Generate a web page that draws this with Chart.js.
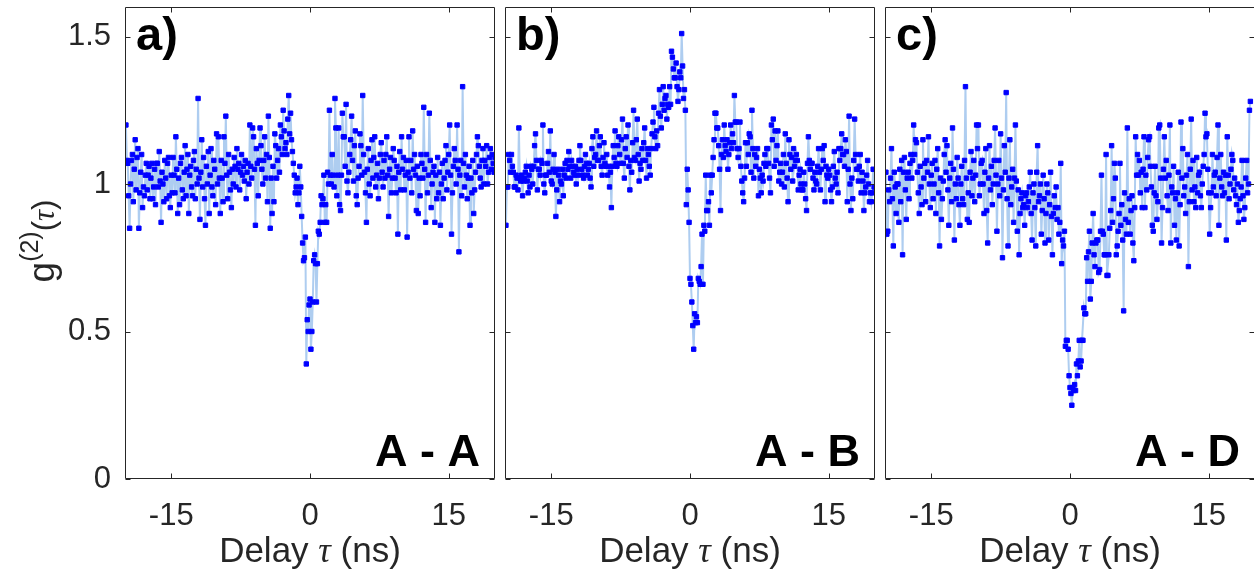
<!DOCTYPE html>
<html><head><meta charset="utf-8">
<script src="https://cdn.jsdelivr.net/npm/chart.js@4.4.1/dist/chart.umd.min.js"></script>
<style>
html,body{margin:0;padding:0;background:#fff;}
body{width:1254px;height:571px;overflow:hidden;position:relative;}
.pane{position:absolute;top:0;}
</style></head>
<body>
<div class="pane" style="left:0px"><canvas id="ca" width="500" height="571"></canvas></div>
<div class="pane" style="left:500px"><canvas id="cb" width="380" height="571"></canvas></div>
<div class="pane" style="left:880px"><canvas id="cc" width="380" height="571"></canvas></div>
<script>
// ---- data ----
const binStart = -19.9, binStep = 0.1, binCount = 400;   // delay bins in ns
const delayNs = Array.from({length: binCount}, (_, i) => +(binStart + binStep * i).toFixed(2));

const g2AA = [
 1.20,1.08,1.07,0.96,0.85,1.00,1.08,1.10,0.94,1.05,1.15,0.98,1.09,1.12,0.85,0.97,1.04,1.10,0.92,0.99,
 0.96,1.03,1.07,0.98,1.03,1.06,0.95,1.02,1.07,0.95,0.99,1.05,0.93,1.07,1.07,0.99,1.11,1.01,0.87,1.04,
 1.00,0.94,1.08,1.02,0.95,1.07,1.09,0.96,0.92,1.03,0.97,1.09,1.03,0.97,1.16,1.05,0.90,1.02,0.93,1.07,
 1.09,0.98,0.95,1.04,1.13,0.96,1.05,1.10,0.90,1.03,1.06,0.99,0.96,1.08,1.11,0.95,1.05,1.00,1.29,1.02,
 0.88,1.04,1.15,0.99,1.09,0.95,0.86,1.06,1.00,1.11,0.90,1.03,1.12,0.99,0.96,1.08,1.05,0.93,1.17,1.00,
 1.16,1.02,0.90,1.08,1.02,0.94,1.16,1.07,1.23,1.03,0.95,1.10,1.04,0.98,0.92,1.05,1.00,1.09,1.06,0.99,
 1.12,1.05,1.07,0.98,1.04,1.10,1.03,1.06,1.01,1.08,0.95,1.04,1.07,1.00,1.20,1.06,1.02,1.19,1.16,1.05,
 0.86,1.12,1.07,0.96,1.08,1.19,1.13,1.05,1.00,1.08,1.16,1.02,1.10,0.94,1.23,1.09,0.85,1.02,0.90,1.06,
 0.94,1.17,1.13,1.02,1.08,1.12,1.04,1.20,1.16,1.10,1.25,1.18,1.12,1.14,1.10,1.22,1.30,1.17,1.24,1.15,
 1.11,1.07,1.03,0.97,0.99,1.02,0.93,0.97,1.06,0.99,0.89,0.80,0.74,0.75,0.82,0.39,0.54,0.50,0.59,0.61,
 0.44,0.50,0.60,0.74,0.76,0.73,0.60,0.73,0.84,0.83,0.87,0.96,0.93,0.95,1.03,0.87,0.93,0.87,1.04,1.00,
 1.25,1.03,1.00,1.10,1.03,0.99,1.29,1.19,0.96,1.03,1.19,0.93,0.91,1.03,1.24,1.16,1.16,1.06,1.27,1.01,
 0.97,1.04,1.10,1.15,1.23,1.08,1.01,1.13,1.18,0.96,0.93,1.02,1.06,1.17,1.13,1.03,1.30,1.10,1.04,0.97,
 0.87,1.05,1.12,1.00,0.96,1.08,1.15,1.02,1.09,1.16,0.99,1.03,1.07,0.95,1.02,1.10,1.14,1.04,0.99,1.08,
 1.02,1.10,1.16,1.03,0.89,1.05,1.09,0.97,1.02,1.12,1.08,1.02,0.97,1.06,0.83,1.04,1.11,0.98,1.16,1.05,
 1.09,0.98,1.03,1.08,0.82,1.04,1.16,1.02,1.08,0.97,1.18,1.05,1.10,1.03,0.91,1.06,0.90,1.02,0.96,1.10,
 1.07,1.02,1.26,1.05,0.87,1.10,0.97,1.03,1.24,1.08,0.92,1.00,1.04,1.06,0.87,1.03,0.95,1.09,0.97,1.04,
 0.86,1.00,1.07,0.95,1.02,1.08,1.13,0.98,1.04,1.10,1.20,1.03,0.83,0.97,1.06,1.12,1.08,1.00,1.20,1.05,
 0.77,1.03,1.08,0.96,1.33,1.07,0.99,1.10,1.03,0.95,1.02,1.06,0.86,1.02,0.97,1.08,0.90,0.98,1.04,1.10,
 1.16,1.13,1.06,1.02,0.99,1.08,1.12,1.00,1.08,1.06,1.13,1.00,1.04,1.09,1.12,1.05,1.10,1.07,1.04,1.09
];
const g2AB = [
 0.86,0.99,0.99,1.10,1.08,1.04,1.10,1.06,1.04,0.99,0.99,1.03,1.02,0.98,1.19,1.02,1.01,1.03,0.96,1.01,
 1.02,1.04,1.06,1.01,0.97,1.03,0.99,1.06,1.05,1.00,1.06,1.13,1.17,1.08,0.98,1.05,1.05,1.03,1.08,1.07,
 1.20,1.00,0.97,1.03,1.03,1.07,1.11,1.04,1.18,1.01,1.00,1.05,1.10,1.04,0.89,0.98,1.05,1.03,0.94,1.01,
 1.00,1.05,0.96,1.03,1.07,1.02,1.08,1.05,1.11,1.06,1.02,1.08,1.06,1.04,1.03,1.06,1.00,1.05,1.03,1.08,
 1.13,1.08,1.05,1.03,1.02,1.06,1.10,1.07,1.03,1.05,1.07,1.02,0.99,1.12,1.16,1.06,1.09,1.10,1.18,1.08,
 1.08,1.13,1.16,1.06,1.03,1.09,1.14,1.07,1.06,1.10,1.03,1.06,0.99,1.04,0.92,1.06,1.13,1.09,1.18,1.07,
 1.06,1.13,1.16,1.10,1.07,1.15,1.22,1.07,1.02,1.12,1.16,1.09,1.20,1.06,0.98,1.08,1.04,1.14,1.25,1.09,
 1.08,1.15,1.22,1.10,1.01,1.07,1.05,1.12,1.08,1.14,1.19,1.08,1.02,1.12,1.10,1.06,1.03,1.12,1.17,1.21,
 1.26,1.16,1.12,1.18,1.13,1.24,1.32,1.23,1.19,1.27,1.33,1.25,1.29,1.30,1.22,1.27,1.26,1.33,1.27,1.45,
 1.43,1.39,1.36,1.36,1.41,1.33,1.28,1.32,1.38,1.36,1.51,1.40,1.29,1.32,1.25,0.93,1.05,0.98,0.87,0.68,
 0.66,0.60,0.52,0.44,0.56,0.53,0.55,0.53,0.68,0.67,0.66,0.72,0.83,0.66,0.86,0.84,1.03,0.91,0.91,0.94,
 0.86,1.03,0.97,1.03,1.09,1.15,1.24,1.24,1.19,1.19,1.13,1.05,0.91,1.10,1.15,1.09,1.20,1.13,1.11,1.15,
 1.05,1.10,1.14,1.20,1.12,1.17,1.14,1.30,1.21,1.21,1.12,1.09,1.12,1.21,1.06,1.01,0.97,0.94,1.02,1.14,
 1.06,1.14,1.10,1.17,1.16,1.04,1.25,1.12,1.02,1.10,1.06,1.09,1.12,0.96,1.05,1.02,0.97,1.03,1.01,1.07,
 1.10,1.06,1.12,1.12,1.07,1.02,0.97,1.20,1.15,1.22,1.06,1.18,1.08,1.13,1.18,1.01,1.04,1.07,1.00,1.04,
 1.10,0.99,1.17,1.07,1.02,0.94,1.15,1.10,1.05,1.09,1.01,1.12,1.06,1.08,1.10,1.08,0.98,1.03,1.05,1.00,
 0.98,0.98,1.04,1.00,0.95,0.91,1.07,1.16,1.08,1.05,1.07,1.07,1.02,0.98,1.04,1.01,1.00,1.06,1.12,1.04,
 0.98,1.05,1.12,1.08,1.13,0.94,1.06,1.03,1.02,1.05,1.03,0.98,0.94,0.99,1.06,1.11,1.02,1.00,1.04,0.97,
 1.12,1.08,1.12,1.17,1.10,1.10,1.06,1.15,1.11,0.94,1.05,1.23,1.00,0.91,1.02,0.95,1.08,1.22,1.10,1.05,
 1.05,1.01,1.06,1.10,0.97,1.04,1.01,0.91,0.97,0.99,1.03,1.08,1.00,0.94,0.97,0.94,0.97,1.05,0.99,0.99
];
const g2AD = [
 1.04,0.83,0.84,0.98,0.94,1.02,1.12,0.95,0.79,1.04,0.99,0.90,1.00,1.00,0.87,1.05,0.94,1.08,0.76,1.04,
 1.09,0.98,0.88,1.02,1.04,0.95,1.07,1.10,1.02,1.08,1.20,1.10,1.15,1.14,1.04,0.97,0.90,1.06,0.99,0.93,
 1.15,1.02,1.07,0.94,1.08,1.04,1.16,1.00,0.92,1.03,1.07,0.95,1.00,1.08,0.90,1.05,1.12,0.97,0.79,1.02,
 0.88,0.95,1.01,1.10,1.15,1.04,1.13,0.98,0.86,1.02,1.07,0.94,1.19,1.05,0.81,1.00,0.95,1.09,1.02,0.93,
 0.86,1.00,1.06,0.95,0.93,1.08,1.33,1.02,0.88,0.97,0.87,1.04,1.11,0.96,1.02,1.08,0.94,1.03,1.20,1.12,
 1.20,0.96,1.00,1.07,1.08,1.00,0.90,1.04,1.12,0.91,0.80,1.02,1.13,0.98,1.06,0.93,1.00,1.08,1.19,1.03,
 0.84,1.00,1.08,0.96,1.17,1.02,0.75,0.98,1.13,1.04,1.31,0.95,0.79,1.02,1.15,0.93,0.99,1.05,0.87,1.02,
 1.20,1.01,0.84,0.98,0.76,0.90,0.95,0.97,0.92,0.93,0.86,0.96,0.97,0.92,0.94,0.99,1.04,0.90,0.81,0.97,
 1.00,0.92,0.79,1.04,1.13,0.94,0.96,1.00,0.83,0.91,1.03,0.95,0.80,0.90,1.00,0.97,0.81,0.93,1.04,0.89,
 0.76,0.90,0.96,0.92,0.99,0.88,0.92,0.83,0.87,1.07,0.73,0.81,0.79,0.84,0.45,0.47,0.47,0.44,0.35,0.31,
 0.29,0.25,0.31,0.30,0.32,0.30,0.39,0.35,0.40,0.47,0.38,0.40,0.47,0.47,0.58,0.56,0.56,0.75,0.67,0.77,
 0.84,0.61,0.67,0.80,0.90,0.76,0.72,0.80,0.81,0.81,0.70,0.71,0.84,1.03,0.84,0.83,0.76,0.76,1.10,0.69,
 0.69,0.76,0.85,0.91,1.13,0.87,0.95,1.07,1.02,0.76,0.79,0.84,0.90,1.07,0.86,0.93,0.81,0.57,0.97,0.88,
 0.83,1.19,0.87,0.95,0.83,0.91,0.96,0.80,0.74,0.92,1.16,1.03,1.10,1.03,1.08,0.97,1.04,0.92,1.05,1.16,
 0.92,1.03,0.98,1.09,1.15,1.16,1.06,0.99,0.86,0.84,0.97,1.06,0.96,0.88,0.94,1.19,1.20,1.02,0.80,0.92,
 1.05,1.16,1.02,1.08,0.96,0.91,1.03,1.20,0.80,0.99,0.97,1.06,0.86,0.95,0.81,0.97,1.04,0.79,0.93,1.21,
 1.02,1.12,0.96,0.99,0.90,1.03,1.10,0.72,0.94,1.05,1.22,0.98,1.08,0.94,0.99,0.92,1.09,0.97,1.03,1.04,
 0.96,0.92,1.00,1.06,1.10,1.24,1.16,1.17,1.05,0.97,0.83,0.92,0.97,1.10,0.99,1.03,1.04,0.96,1.09,1.20,
 0.86,1.02,1.10,0.99,0.96,1.04,0.97,1.03,0.81,1.16,1.03,0.95,1.00,1.05,1.10,1.08,0.98,1.02,0.96,0.93,
 1.00,0.87,0.91,0.95,0.99,1.08,0.96,0.88,0.92,1.02,1.08,0.97,1.00,1.25,1.28
];
const xTickValues = [-15, 0, 15];
const yTickValues = [0, 0.5, 1, 1.5];
const panelTags = ['a)', 'b)', 'c)'];
const panelPairs = ['A - A', 'A - B', 'A - D'];

// ---- drawing ----
const FONT = '"Liberation Sans", Arial, Helvetica, sans-serif';
const SERIF_IT = 'italic {s}px "Liberation Serif", "DejaVu Serif", serif';
const INK = '#262626';

const framePlugin = {
  id: 'frame',
  afterDatasetsDraw(chart, args, o) {
    const {ctx, chartArea: a, scales: {x, y}} = chart;
    ctx.save();
    ctx.strokeStyle = INK; ctx.lineWidth = 1;
    const l = Math.round(a.left) + 0.5, t = Math.round(a.top) + 0.5;
    const r = Math.round(a.right) - 0.5, b = Math.round(a.bottom) - 0.5;
    ctx.beginPath();
    ctx.moveTo(l, t); ctx.lineTo(r, t); ctx.lineTo(r, b); ctx.lineTo(l, b); ctx.closePath();
    const L = 5;
    xTickValues.forEach(v => {
      const px = Math.round(x.getPixelForValue(v)) + 0.5;
      ctx.moveTo(px, b); ctx.lineTo(px, b - L);
      ctx.moveTo(px, t); ctx.lineTo(px, t + L);
    });
    yTickValues.forEach(v => {
      const py = Math.round(y.getPixelForValue(v)) + 0.5;
      ctx.moveTo(l, py); ctx.lineTo(l + L, py);
      ctx.moveTo(r, py); ctx.lineTo(r - L, py);
    });
    ctx.stroke();
    // panel tag and pair label
    ctx.fillStyle = '#000';
    ctx.textBaseline = 'alphabetic';
    ctx.font = 'bold 47px ' + FONT;
    ctx.textAlign = 'left';
    ctx.fillText(o.tag, a.left + 11, a.top + 43);
    ctx.font = 'bold 45px ' + FONT;
    ctx.textAlign = 'right';
    ctx.fillText(o.pair, a.right - 15, a.bottom - 13);
    // x-axis title: Delay τ (ns)
    ctx.fillStyle = INK;
    const p1 = 'Delay ', p2 = 'τ', p3 = ' (ns)';
    const f1 = '35px ' + FONT, f2 = SERIF_IT.replace('{s}', 35);
    ctx.font = f1; const w1 = ctx.measureText(p1).width, w3 = ctx.measureText(p3).width;
    ctx.font = f2; const w2 = ctx.measureText(p2).width;
    const cx = (a.left + a.right) / 2; let sx = cx - (w1 + w2 + w3) / 2;
    const base = 562;
    ctx.textAlign = 'left';
    ctx.font = f1; ctx.fillText(p1, sx, base); sx += w1;
    ctx.font = f2; ctx.fillText(p2, sx, base); sx += w2;
    ctx.font = f1; ctx.fillText(p3, sx, base);
    // y-axis title on first panel: g^(2)(τ)
    if (o.yTitle) {
      ctx.translate(54, (a.top + a.bottom) / 2 - 2);
      ctx.rotate(-Math.PI / 2);
      const parts = [
        {s: 'g', f: '37px ' + FONT, dy: 0},
        {s: '(2)', f: '25px ' + FONT, dy: -16},
        {s: '(', f: '31px ' + FONT, dy: 0},
        {s: 'τ', f: SERIF_IT.replace('{s}', 31), dy: 0},
        {s: ')', f: '31px ' + FONT, dy: 0}
      ];
      let tw = 0;
      parts.forEach(p => { ctx.font = p.f; p.w = ctx.measureText(p.s).width; tw += p.w; });
      let px = -tw / 2;
      parts.forEach(p => { ctx.font = p.f; ctx.fillText(p.s, px, p.dy); px += p.w; });
    }
    ctx.restore();
  }
};

function makePanel(id, values, idx, yAxisWidth, padRight, showYLabels) {
  const pts = delayNs.map((d, i) => ({x: d, y: values[i]})).filter(p => p.y !== undefined);
  return new Chart(document.getElementById(id), {
    type: 'line',
    data: { datasets: [{
      data: pts,
      borderColor: '#aecdf0',
      borderWidth: 2,
      tension: 0,
      pointStyle: 'rect',
      pointRadius: 3.1,
      pointBorderWidth: 1,
      pointBackgroundColor: '#0000ff',
      pointBorderColor: '#0000ff'
    }]},
    options: {
      responsive: false,
      animation: false,
      events: [],
      layout: { padding: {top: 7, right: padRight, left: 0, bottom: 0} },
      plugins: {
        legend: {display: false}, tooltip: {enabled: false},
        frame: { tag: panelTags[idx], pair: panelPairs[idx], yTitle: idx === 0 }
      },
      scales: {
        x: {
          type: 'linear', min: -20, max: 20,
          grid: {display: false, drawTicks: false},
          border: {display: false},
          afterBuildTicks: ax => { ax.ticks = xTickValues.map(v => ({value: v})); },
          afterFit: ax => { ax.height = 92; ax.paddingLeft = 0; ax.paddingRight = 0; },
          ticks: { color: INK, font: {family: FONT, size: 31}, padding: 19, maxRotation: 0,
                   callback: v => String(v) }
        },
        y: {
          type: 'linear', min: 0, max: 1.6,
          grid: {display: false, drawTicks: false},
          border: {display: false},
          afterBuildTicks: ax => { ax.ticks = yTickValues.map(v => ({value: v})); },
          afterFit: ax => { ax.width = yAxisWidth; ax.paddingTop = 0; ax.paddingBottom = 0; },
          ticks: { display: showYLabels, color: INK, font: {family: FONT, size: 31}, padding: 14,
                   callback: v => String(v) }
        }
      }
    },
    plugins: [framePlugin]
  });
}

makePanel('ca', g2AA, 0, 125, 3, true);
makePanel('cb', g2AB, 1, 5, 3, false);
makePanel('cc', g2AD, 2, 4, 4, false);
</script>
</body></html>
